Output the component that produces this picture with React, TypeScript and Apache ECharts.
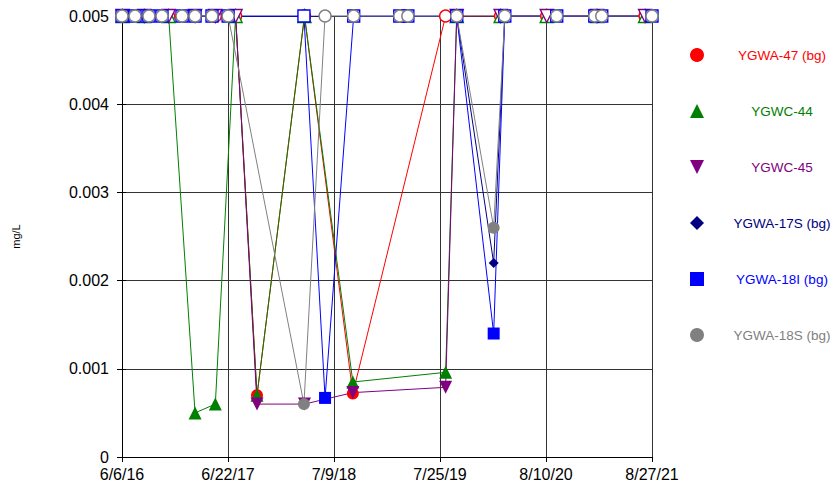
import { useEffect, useRef } from "react";
import * as echarts from "echarts";

// ---- axis ----
const AXIS_START = "2016-06-06";
const AXIS_END = "2021-08-27";
const X_SEGMENTS = 5;
const Y_MIN = 0;
const Y_MAX = 0.005;
const Y_STEP = 0.001;
const UNIT = "mg/L";

// reporting limit: values at this level are non-detects, drawn hollow
const RL = 0.005;

// ---- sampling dates ----
const bgDates = [
  "2016-06-06", "2016-07-23", "2016-09-11", "2016-10-28", "2017-01-08",
  "2017-02-24", "2017-04-26", "2017-06-23", "2018-03-23", "2018-06-07",
  "2018-09-18", "2019-03-03", "2019-04-01", "2019-09-24", "2020-02-04",
  "2020-03-15", "2020-09-18", "2021-02-02", "2021-02-27", "2021-08-27",
];
const compDates = [
  "2016-06-08", "2016-08-25", "2016-11-21", "2017-02-24", "2017-05-08",
  "2017-07-20", "2017-10-05", "2018-03-25", "2018-09-15", "2019-08-15",
  "2019-09-24", "2020-02-29", "2020-08-13", "2021-02-10", "2021-08-02",
];

// ---- values (mg/L) ----
const ygwa47 = [0.005, 0.005, 0.005, 0.005, 0.005, 0.005, 0.0007, 0.005, 0.00072, 0.005, 0.005, 0.005, 0.005, 0.005, 0.005];
const ygwc44 = [0.005, 0.005, 0.005, 0.0005, 0.0006, 0.005, 0.0007, 0.005, 0.00085, 0.00096, 0.005, 0.005, 0.005, 0.005, 0.005];
const ygwc45 = [0.005, 0.005, 0.005, 0.005, 0.005, 0.005, 0.0006, 0.0006, 0.00073, 0.00079, 0.005, 0.005, 0.005, 0.005, 0.005];
const ygwa17s = [0.005, 0.005, 0.005, 0.005, 0.005, 0.005, 0.005, 0.005, 0.005, 0.005, 0.005, 0.005, 0.005, 0.005, 0.0022, 0.005, 0.005, 0.005, 0.005, 0.005];
const ygwa18i = [0.005, 0.005, 0.005, 0.005, 0.005, 0.005, 0.005, 0.005, 0.005, 0.00067, 0.005, 0.005, 0.005, 0.005, 0.0014, 0.005, 0.005, 0.005, 0.005, 0.005];
const ygwa18s = [0.005, 0.005, 0.005, 0.005, 0.005, 0.005, 0.005, 0.005, 0.0006, 0.005, 0.005, 0.005, 0.005, 0.005, 0.0026, 0.005, 0.005, 0.005, 0.005, 0.005];

const seriesNames = ["YGWA-47 (bg)", "YGWC-44", "YGWC-45", "YGWA-17S (bg)", "YGWA-18I (bg)", "YGWA-18S (bg)"];

const FONT = "'Liberation Sans', Arial, sans-serif";
const INV_TRI = "path://M0,0L10,0L5,10Z";

function toUTC(s: string) {
  const [y, m, d] = s.split("-").map(Number);
  return Date.UTC(y, m - 1, d);
}
const DAY = 86400000;
const startMs = toUTC(AXIS_START);
const dayOf = (s: string) => (toUTC(s) - startMs) / DAY;
const SPAN = dayOf(AXIS_END);

function fmtDate(v: number) {
  const dt = new Date(startMs + Math.floor(v + 1e-6) * DAY);
  return `${dt.getUTCMonth() + 1}/${dt.getUTCDate()}/${String(dt.getUTCFullYear()).slice(2)}`;
}

function makeSeries(
  name: string,
  color: string,
  symbol: string,
  size: number,
  dates: string[],
  values: number[],
  rotate = 0
) {
  return {
    name,
    type: "line",
    symbol,
    symbolSize: size,
    symbolRotate: rotate,
    showAllSymbol: true,
    lineStyle: { color, width: 1 },
    itemStyle: { color },
    emphasis: { disabled: true },
    data: dates.map((d, i) => {
      const v = values[i];
      if (v >= RL) {
        return {
          value: [dayOf(d), v],
          itemStyle: { color: "#ffffff", borderColor: color, borderWidth: 1.4 },
        };
      }
      return { value: [dayOf(d), v] };
    }),
  };
}

export default function App() {
  const ref = useRef<HTMLDivElement>(null);
  useEffect(() => {
    if (!ref.current) return;
    const chart = echarts.init(ref.current, undefined, { renderer: "svg" });
    const colors = ["#FF0000", "#008000", "#800080", "#000080", "#0000FF", "#808080"];
    const icons = ["circle", "triangle", INV_TRI, "diamond", "rect", "circle"];
    const yAxisBase = {
      type: "value",
      min: Y_MIN,
      max: Y_MAX,
      interval: Y_STEP,
    };
    chart.setOption({
      animation: false,
      backgroundColor: "#ffffff",
      textStyle: { fontFamily: FONT },
      grid: { left: 122, right: 181, top: 16, bottom: 34, containLabel: false },
      xAxis: {
        type: "value",
        min: 0,
        max: SPAN,
        interval: SPAN / X_SEGMENTS,
        axisLine: { show: true, lineStyle: { color: "#000", width: 1 } },
        axisTick: { show: true, length: 5, lineStyle: { color: "#000" } },
        axisLabel: {
          formatter: fmtDate,
          fontSize: 16,
          color: "#000",
          margin: 9,
          fontFamily: FONT,
        },
        splitLine: { show: true, lineStyle: { color: "#333", width: 1 } },
      },
      yAxis: [
        {
          ...yAxisBase,
          name: UNIT,
          nameLocation: "middle",
          nameGap: 101,
          nameTextStyle: { fontSize: 11, color: "#000", fontFamily: FONT },
          axisLine: { show: true, lineStyle: { color: "#000", width: 1 } },
          axisTick: { show: true, length: 5, lineStyle: { color: "#000" } },
          axisLabel: {
            formatter: (v: number) => (v === 0 ? "0" : v.toFixed(3)),
            fontSize: 16,
            color: "#000",
            margin: 13,
            fontFamily: FONT,
          },
          splitLine: { show: true, lineStyle: { color: "#333", width: 1 } },
        },
        {
          ...yAxisBase,
          position: "left",
          axisLine: { show: false },
          axisTick: { show: true, inside: true, length: 4, lineStyle: { color: "#000" } },
          axisLabel: { show: false },
          splitLine: { show: false },
        },
      ],
      legend: {
        orient: "vertical",
        left: 685,
        top: 43,
        itemWidth: 14,
        itemHeight: 14,
        itemGap: 42,
        itemStyle: { borderWidth: 0 },
        formatter: (n: string) => `{t|${n}}`,
        textStyle: {
          fontFamily: FONT,
          fontSize: 13.5,
          rich: {
            t: {
              width: 100,
              padding: [0, 0, 0, 23],
              align: "center",
              fontSize: 13.5,
              fontFamily: FONT,
              overflow: "none",
            },
          },
        },
        data: seriesNames.map((n, i) => ({
          name: n,
          icon: icons[i],
          textStyle: { color: colors[i] },
        })),
      },
      series: [
        makeSeries(seriesNames[0], colors[0], "circle", 12, compDates, ygwa47),
        makeSeries(seriesNames[1], colors[1], "triangle", 13, compDates, ygwc44),
        makeSeries(seriesNames[2], colors[2], "triangle", 13, compDates, ygwc45, 180),
        makeSeries(seriesNames[3], colors[3], "diamond", 10, bgDates, ygwa17s),
        makeSeries(seriesNames[4], colors[4], "rect", 12, bgDates, ygwa18i),
        makeSeries(seriesNames[5], colors[5], "circle", 12, bgDates, ygwa18s),
      ],
    });
    return () => chart.dispose();
  }, []);
  return (
    <div
      ref={ref}
      style={{ position: "fixed", left: 0, top: 0, width: 833, height: 491, background: "#fff" }}
    />
  );
}
